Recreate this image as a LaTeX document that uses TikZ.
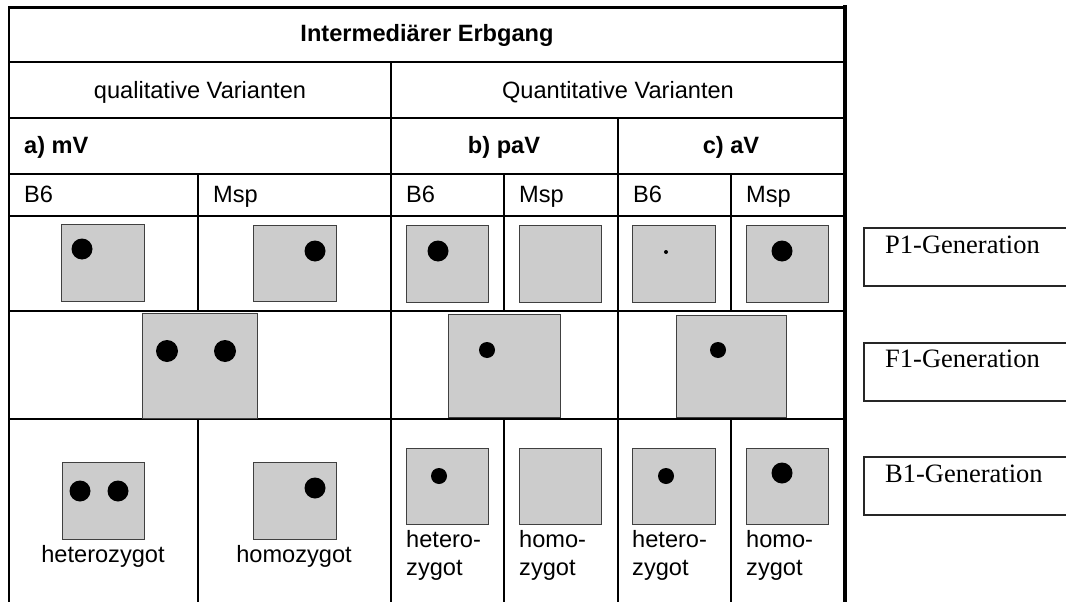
\documentclass[tikz,border=0pt]{standalone}
\usepackage{fontspec}
\setmainfont{Liberation Sans}
\newfontfamily\timesfont{Liberation Serif}
\begin{document}
\begin{tikzpicture}[x=1pt,y=-1pt,
  tline/.style={line width=2.4pt, black},
  gbox/.style={rectangle, draw=black!75, line width=1.2pt, fill=black!20, inner sep=0pt},
  dot/.style={circle, fill=black, draw=none, inner sep=0pt},
  txt/.style={inner sep=0pt, font=\fontsize{23.6}{28}\selectfont},
  btxt/.style={inner sep=0pt, font=\fontsize{23.6}{28}\selectfont\bfseries},
  genbox/.style={rectangle, draw=black!85, line width=1.8pt, inner sep=0pt, anchor=north west, minimum width=220pt, minimum height=58pt},
  gentxt/.style={inner sep=0pt, anchor=base west, font=\timesfont\fontsize{26.5}{30}\selectfont}
]
\clip (0,0) rectangle (1066,602);
\fill[white] (0,0) rectangle (1066,602);

% ---- table lines ----
\draw[tline] (9,602) -- (9,7.5) -- (845,7.5);
\draw[line width=4pt] (845,5.5) -- (845,602);
\foreach \yy in {62,118,174,216,311,419}
  \draw[tline] (9,\yy) -- (845,\yy);
\draw[tline] (391,62) -- (391,602);
\draw[tline] (618,118) -- (618,602);
\foreach \xx in {198,504,731} {
  \draw[tline] (\xx,174) -- (\xx,311);
  \draw[tline] (\xx,419) -- (\xx,602);
}

% ---- header texts ----
\node[btxt, anchor=base] (title) at (427,42) {Intermediärer Erbgang};
\node[txt, anchor=base] (qual) at (200,99) {qualitative Varianten};
\node[txt, anchor=base] (quant) at (618,99) {Quantitative Varianten};
\node[btxt, anchor=base west] (amv) at (24,153) {a) mV};
\node[btxt, anchor=base] (bpav) at (504,153) {b) paV};
\node[btxt, anchor=base] (cav) at (731,153) {c) aV};
\node[txt, anchor=base west] (mvb6) at (24,202) {B6};
\node[txt, anchor=base west] (mvmsp) at (213,202) {Msp};
\node[txt, anchor=base west] (pavb6) at (406,202) {B6};
\node[txt, anchor=base west] (pavmsp) at (519,202) {Msp};
\node[txt, anchor=base west] (avb6) at (633,202) {B6};
\node[txt, anchor=base west] (avmsp) at (746,202) {Msp};

% ---- P1 row ----
\node[gbox, anchor=north west, minimum width=83pt, minimum height=77pt] (p1mvb6) at (61,224) {};
\node[gbox, anchor=north west, minimum width=83pt, minimum height=76pt] (p1mvmsp) at (253,225) {};
\node[gbox, anchor=north west, minimum width=82pt, minimum height=77pt] (p1pavb6) at (406,225) {};
\node[gbox, anchor=north west, minimum width=82pt, minimum height=77pt] (p1pavmsp) at (519,225) {};
\node[gbox, anchor=north west, minimum width=83pt, minimum height=77pt] (p1avb6) at (632,225) {};
\node[gbox, anchor=north west, minimum width=82pt, minimum height=77pt] (p1avmsp) at (746,225) {};
\node[dot, minimum size=21pt] (dp1mvb6) at (82,249) {};
\node[dot, minimum size=21pt] (dp1mvmsp) at (315,251) {};
\node[dot, minimum size=21pt] (dp1pavb6) at (438,251) {};
\node[dot, minimum size=4pt] (dp1avb6) at (666,252) {};
\node[dot, minimum size=21pt] (dp1avmsp) at (782,251) {};

% ---- F1 row ----
\node[gbox, anchor=north west, minimum width=115pt, minimum height=105pt] (f1mv) at (142,313) {};
\node[gbox, anchor=north west, minimum width=112pt, minimum height=103pt] (f1pav) at (448,314) {};
\node[gbox, anchor=north west, minimum width=110pt, minimum height=102pt] (f1av) at (676,315) {};
\node[dot, minimum size=22pt] (df1mva) at (167,351) {};
\node[dot, minimum size=22pt] (df1mvb) at (225,351) {};
\node[dot, minimum size=16pt] (df1pav) at (487,350) {};
\node[dot, minimum size=16pt] (df1av) at (718,350) {};

% ---- B1 row ----
\node[gbox, anchor=north west, minimum width=82pt, minimum height=77pt] (b1mvhet) at (62,462) {};
\node[gbox, anchor=north west, minimum width=83pt, minimum height=77pt] (b1mvhom) at (253,462) {};
\node[gbox, anchor=north west, minimum width=82pt, minimum height=76pt] (b1pavhet) at (406,448) {};
\node[gbox, anchor=north west, minimum width=82pt, minimum height=76pt] (b1pavhom) at (519,448) {};
\node[gbox, anchor=north west, minimum width=83pt, minimum height=76pt] (b1avhet) at (632,448) {};
\node[gbox, anchor=north west, minimum width=82pt, minimum height=76pt] (b1avhom) at (746,448) {};
\node[dot, minimum size=21pt] (db1mvheta) at (80,491) {};
\node[dot, minimum size=21pt] (db1mvhetb) at (118,491) {};
\node[dot, minimum size=21pt] (db1mvhom) at (315,488) {};
\node[dot, minimum size=16pt] (db1pavhet) at (439,476) {};
\node[dot, minimum size=16pt] (db1avhet) at (666,476) {};
\node[dot, minimum size=21pt] (db1avhom) at (782,473) {};

\node[txt, anchor=base] (thet) at (103,562) {heterozygot};
\node[txt, anchor=base] (thom) at (294,562) {homozygot};
\node[txt, anchor=base west, align=left] (tpavhet) at (406,575) {hetero-\\zygot};
\node[txt, anchor=base west, align=left] (tpavhom) at (519,575) {homo-\\zygot};
\node[txt, anchor=base west, align=left] (tavhet) at (632,575) {hetero-\\zygot};
\node[txt, anchor=base west, align=left] (tavhom) at (746,575) {homo-\\zygot};

% ---- generation labels ----
\node[genbox] (p1gen) at (863,227) {};
\node[genbox] (f1gen) at (863,342) {};
\node[genbox] (b1gen) at (863,456) {};
\node[gentxt] (p1gentxt) at (885,253) {P1-Generation};
\node[gentxt] (f1gentxt) at (885,367) {F1-Generation};
\node[gentxt] (b1gentxt) at (885,482) {B1-Generation};
\end{tikzpicture}
\end{document}
